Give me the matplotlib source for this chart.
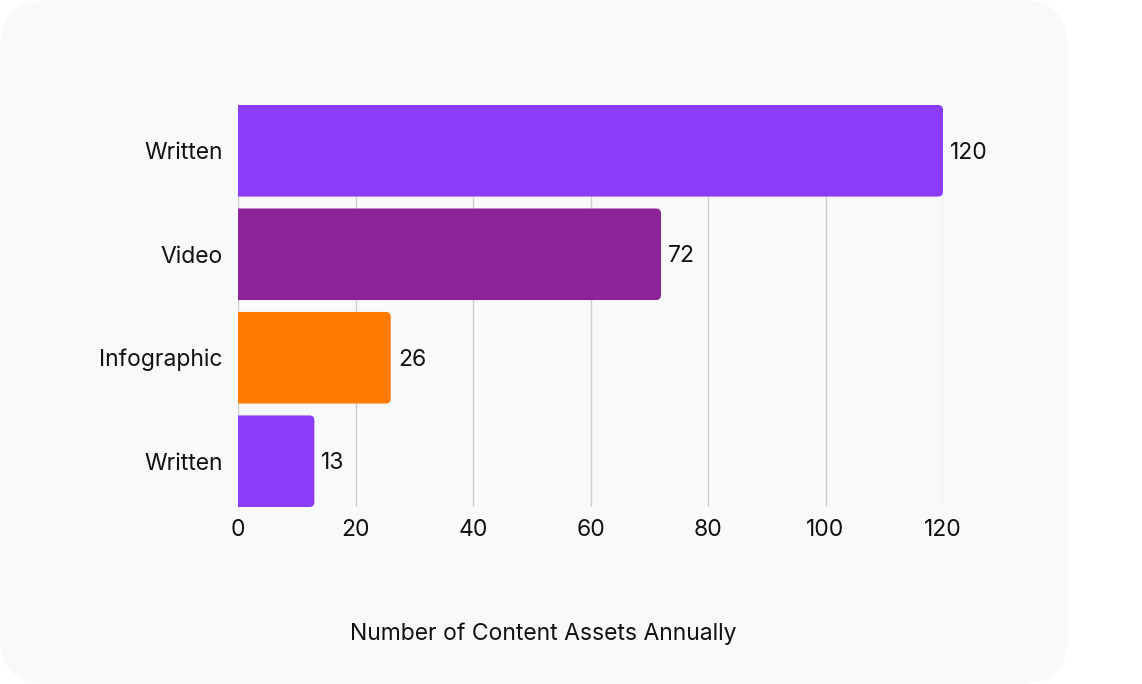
import matplotlib
matplotlib.use("Agg")
import matplotlib.pyplot as plt
from matplotlib.patches import FancyBboxPatch, PathPatch
from matplotlib.path import Path

categories = ["Written", "Video", "Infographic", "Written"]
values = [120, 72, 26, 13]
colors = ["#8b3cf7", "#8b2497", "#ff7a00", "#8b3cf7"]
xticks = [0, 20, 40, 60, 80, 100, 120]
xlabel = "Number of Content Assets Annually"

plt.rcParams["font.family"] = ["Inter", "DejaVu Sans"]

W, H, DPI = 1142, 684, 100
fig = plt.figure(figsize=(W / DPI, H / DPI), dpi=DPI, facecolor="white")

# rounded card background
card = FancyBboxPatch(
    (0, 0), 10.68, 6.84,
    boxstyle="round,pad=0,rounding_size=0.48",
    transform=fig.dpi_scale_trans,
    facecolor="#f8f9fb", edgecolor="none", zorder=-5,
)
fig.patches.append(card)

left, right, top, bottom = 238, 943, 105, 507
ax = fig.add_axes([left / W, 1 - bottom / H, (right - left) / W, (bottom - top) / H])
ax.set_facecolor("none")
ax.set_zorder(2)

bar_h = 0.885
n = len(categories)
ax.set_xlim(0, 120)
ax.set_ylim(n - 1 + bar_h / 2, -bar_h / 2)

px_x = (right - left) / 120.0
px_y = (bottom - top) / (n - 1 + bar_h)
rx = 5 / px_x
ry = 5 / px_y


def bar_path(v, y0, h):
    # rectangle with only the right-hand corners rounded
    y1 = y0 + h
    verts = [(0, y0), (v - rx, y0), (v, y0), (v, y0 + ry), (v, y1 - ry),
             (v, y1), (v - rx, y1), (0, y1), (0, y0)]
    codes = [Path.MOVETO, Path.LINETO, Path.CURVE3, Path.CURVE3, Path.LINETO,
             Path.CURVE3, Path.CURVE3, Path.LINETO, Path.CLOSEPOLY]
    return Path(verts, codes)


for i, (v, c) in enumerate(zip(values, colors)):
    ax.add_patch(PathPatch(bar_path(v, i - bar_h / 2, bar_h),
                           facecolor=c, edgecolor="none", zorder=3))
    ax.annotate(str(v), xy=(v, i), xytext=(7, -2), textcoords="offset pixels",
                va="center", ha="left", fontsize=16.5, color="#111111", zorder=4)

ax.set_yticks(range(n))
ax.set_yticklabels(categories)
ax.set_xticks(xticks)
ax.tick_params(axis="both", length=0, labelsize=16.5, colors="#111111")
ax.tick_params(axis="y", pad=11)
ax.tick_params(axis="x", pad=9)
ax.grid(axis="x", color="#cfcfcf", linewidth=1, zorder=1)
ax.set_axisbelow(True)
for s in ax.spines.values():
    s.set_visible(False)

fig.text(543 / W, 1 - 634 / H, xlabel, ha="center", va="center",
         fontsize=16.5, color="#111111")

fig.savefig("out.png", dpi=DPI, facecolor="white")
